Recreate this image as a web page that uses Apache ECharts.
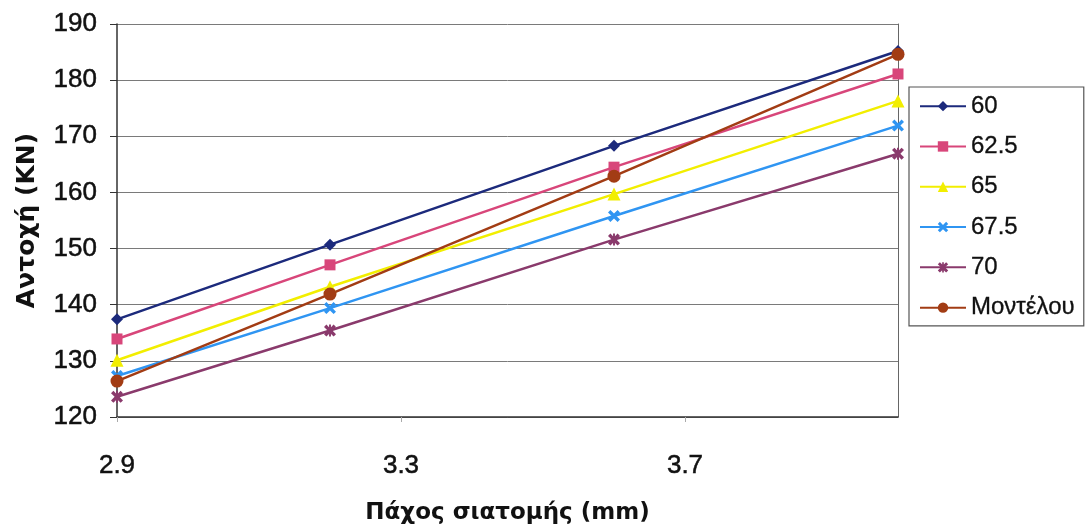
<!DOCTYPE html>
<html>
<head>
<meta charset="utf-8">
<script src="https://cdn.jsdelivr.net/npm/echarts@6/dist/echarts.min.js"></script>
<style>
  html, body { margin: 0; padding: 0; background: #fff; }
  #chart { width: 1089px; height: 530px; }
</style>
</head>
<body>
<div id="chart"></div>
<script>
// Section thickness (mm)
const thickness = [2.9, 3.2, 3.6, 4.0];

// Strength (KN) for each series
const seriesNames = ['60', '62.5', '65', '67.5', '70', 'Μοντέλου'];
const s60    = [137.4, 150.7, 168.3, 185.2];
const s62_5  = [133.9, 147.1, 164.5, 181.1];
const s65    = [130.1, 143.2, 159.7, 176.3];
const s67_5  = [127.3, 139.4, 155.8, 171.9];
const s70    = [123.6, 135.4, 151.6, 166.9];
const sModel = [126.4, 141.9, 162.9, 184.6];

const xTicks = { min: 2.9, max: 4.0, interval: 0.4 };
const yTicks = { min: 120, max: 190, interval: 10 };

const colors = ['#1c2a7c', '#d8467a', '#f2ee00', '#2f95f2', '#8a3a6c', '#a23c14'];
const crossPath = 'path://M0,2 L2,0 L5,3 L8,0 L10,2 L7,5 L10,8 L8,10 L5,7 L2,10 L0,8 L3,5 Z';
const starPath = 'path://M0,2 L2,0 L5,3 L8,0 L10,2 L7,5 L10,8 L8,10 L5,7 L2,10 L0,8 L3,5 Z M4.2,0 L5.8,0 L5.8,10 L4.2,10 Z';
const symbols = ['diamond', 'rect', 'triangle', crossPath, starPath, 'circle'];
const symbolSizes = [12, 11, 13, 12, 12, 13];
const values = [s60, s62_5, s65, s67_5, s70, sModel];

const labelFont = 'Liberation Sans, Arial, sans-serif';
const titleFont = 'DejaVu Sans, Verdana, sans-serif';

const series = seriesNames.map((name, k) => ({
  name: name,
  type: 'line',
  data: thickness.map((x, i) => [x, values[k][i]]),
  symbol: symbols[k],
  symbolSize: symbolSizes[k],
  showAllSymbol: true,
  lineStyle: { color: colors[k], width: 2.5 },
  itemStyle: { color: colors[k] },
  emphasis: { disabled: true },
  animation: false,
  z: 3
}));

const chart = echarts.init(document.getElementById('chart'), null, { renderer: 'canvas' });
chart.setOption({
  animation: false,
  grid: { left: 117, right: 191, top: 24, bottom: 103 },
  xAxis: {
    type: 'value',
    min: xTicks.min,
    max: xTicks.max,
    interval: xTicks.interval,
    name: 'Πάχος σιατομής (mm)',
    nameLocation: 'middle',
    nameGap: 85,
    nameTextStyle: { fontFamily: titleFont, fontWeight: 'bold', fontSize: 23, color: '#111' },
    axisLine: { show: true, lineStyle: { color: '#333', width: 1.5 } },
    axisTick: { show: true, length: 5, lineStyle: { color: '#aaa' } },
    splitLine: { show: false },
    axisLabel: {
      margin: 36,
      showMaxLabel: false,
      fontFamily: labelFont,
      fontSize: 26,
      color: '#111',
      textBorderColor: '#111',
      textBorderWidth: 0.5,
      formatter: v => (Math.abs(v - xTicks.max) < 1e-6 ? '' : v.toFixed(1))
    }
  },
  yAxis: [{
    type: 'value',
    min: yTicks.min,
    max: yTicks.max,
    interval: yTicks.interval,
    name: 'Αντοχή (KN)',
    nameLocation: 'middle',
    nameGap: 77,
    nameRotate: 90,
    nameTextStyle: { fontFamily: titleFont, fontWeight: 'bold', fontSize: 25, color: '#111' },
    axisLine: { show: true, lineStyle: { color: '#333', width: 1.5 } },
    axisTick: { show: true, length: 7, lineStyle: { color: '#333' } },
    splitLine: { show: true, lineStyle: { color: '#7a7a7a', width: 1 } },
    axisLabel: {
      margin: 20,
      fontFamily: labelFont,
      fontSize: 26,
      color: '#111',
      textBorderColor: '#111',
      textBorderWidth: 0.5
    }
  }, {
    type: 'value',
    position: 'right',
    min: yTicks.min,
    max: yTicks.max,
    interval: yTicks.interval,
    axisLine: { show: true, lineStyle: { color: '#666', width: 1 } },
    axisTick: { show: false },
    axisLabel: { show: false },
    splitLine: { show: false }
  }],
  legend: {
    orient: 'vertical',
    left: 909,
    top: 87,
    padding: [7, 9, 6, 10],
    itemGap: 16,
    itemWidth: 46,
    itemHeight: 13,
    borderColor: '#555',
    borderWidth: 1.2,
    data: seriesNames,
    textStyle: { fontFamily: labelFont, fontSize: 24, color: '#111', textBorderColor: '#111', textBorderWidth: 0.3 }
  },
  series: series
});
</script>
</body>
</html>
